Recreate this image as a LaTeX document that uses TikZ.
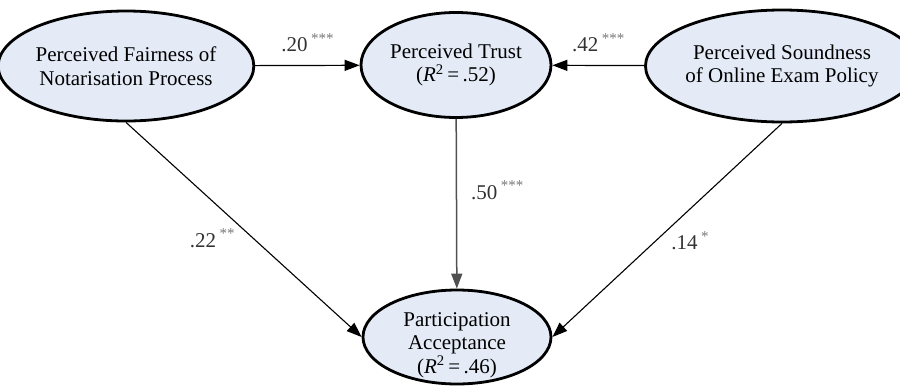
\documentclass[tikz,border=0pt]{standalone}
\usepackage{fontspec}
\setmainfont{Liberation Serif}
\newfontfamily\diagfont{Liberation Serif}
\usetikzlibrary{shapes.geometric,arrows.meta}
\definecolor{latentfill}{RGB}{228,235,247}
\definecolor{coefgray}{RGB}{50,50,50}
\definecolor{stargray}{RGB}{120,120,120}
\definecolor{pathgray}{RGB}{80,80,80}
\newcommand{\sig}[1]{\,\raisebox{.4em}{\fontsize{15}{15}\selectfont\color{stargray}#1}}
\newcommand{\rsq}[1]{(\textit{R}\textsuperscript{2}\,=\,#1)}

\begin{document}
\begin{tikzpicture}[x=1pt,y=-1pt,line join=round,
  latent/.style={ellipse,draw,line width=2.8pt,fill=latentfill,inner sep=0pt,
    align=center,font=\diagfont\fontsize{21}{23.5}\selectfont},
  path/.style={line width=1.2pt,-{Triangle[length=15pt,width=11pt]}},
  coef/.style={inner sep=0pt,text=coefgray,font=\diagfont\fontsize{21}{22}\selectfont}]

\useasboundingbox (0,0) rectangle (900,389);

% Exogenous constructs and the mediator on the top row.
\node[latent,minimum width=224pt,minimum height=110pt] (fair) at (126,66)
  {Perceived Fairness of\\Notarisation Process};
\node[latent,minimum width=190pt,minimum height=105pt] (trust) at (456,65)
  {Perceived Trust\\\rsq{.52}};
\node[latent,minimum width=228pt,minimum height=112pt] (sound) at (782,66)
  {Perceived Soundness\\of Online Exam Policy};

% Outcome construct.
\node[latent,minimum width=188pt,minimum height=94pt] (accept) at (457,337) {};
\node[latent,draw=none,fill=none] (accepttext) at ([yshift=-8pt]accept.center)
  {Participation\\Acceptance\\\rsq{.46}};

% Structural paths with standardised coefficients.
\draw[path] (fair) -- node[coef,above=13pt] (cft) {.20\sig{***}} (trust);
\draw[path] (sound) -- node[coef,above=13pt] (cst) {.42\sig{***}} (trust);
\draw[path,draw=pathgray,line width=1.5pt] (trust) --
  node[coef,pos=.42,right=14pt] (cta) {.50\sig{***}} (accept);
\draw[path,line width=1.1pt] (fair.south) --
  node[coef,pos=.54,left=18pt] (cfa) {.22\sig{**}} (accept.west);
\draw[path,line width=1.1pt] (sound.south) --
  node[coef,pos=.55,right=15pt] (csa) {.14\sig{*}} (accept.east);
\end{tikzpicture}
\end{document}
